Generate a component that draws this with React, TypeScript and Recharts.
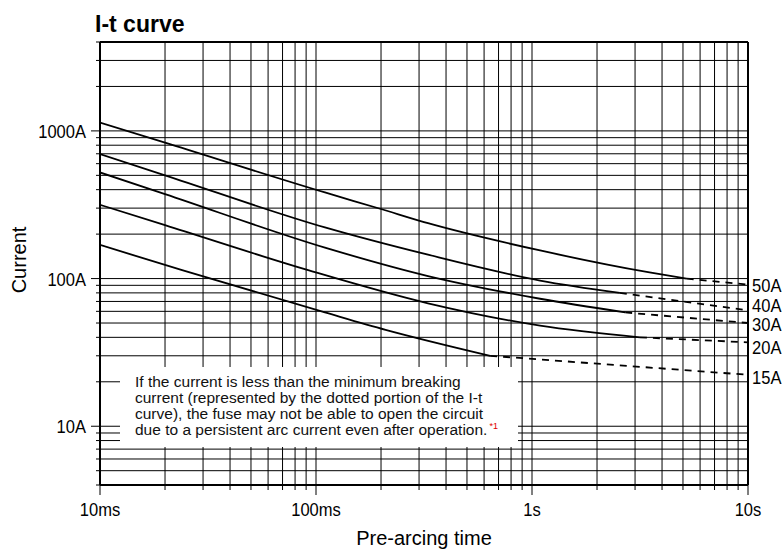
import React from 'react';
import { LineChart, Line, XAxis, YAxis, CartesianGrid, ReferenceLine } from 'recharts';

// pre-arcing time in seconds, current in amperes
const timeTicks = [
  0.01, 0.02, 0.03, 0.04, 0.05, 0.06, 0.07, 0.08, 0.09,
  0.1, 0.2, 0.3, 0.4, 0.5, 0.6, 0.7, 0.8, 0.9,
  1, 2, 3, 4, 5, 6, 7, 8, 9, 10,
];
const currentTicks = [
  4, 5, 6, 7, 8, 9,
  10, 20, 30, 40, 50, 60, 70, 80, 90,
  100, 200, 300, 400, 500, 600, 700, 800, 900,
  1000, 2000, 3000, 4000,
];
const timeLabels: Record<string, string> = { '0.01': '10ms', '0.1': '100ms', '1': '1s', '10': '10s' };
const currentLabels: Record<string, string> = { '10': '10A', '100': '100A', '1000': '1000A' };

const ratings = ['50A', '40A', '30A', '20A', '15A'];

const fuse50Solid = [[0.01, 1140], [0.02, 832], [0.11, 383], [0.198, 297], [0.33, 237], [1.09, 155], [3.5, 110], [5.2, 100]];
const fuse50Dotted = [[5.2, 100], [10, 91]];
const fuse40Solid = [[0.01, 696], [0.02, 500], [0.11, 222], [0.33, 145], [1.09, 97], [2.55, 80]];
const fuse40Dotted = [[2.55, 80], [10, 61]];
const fuse30Solid = [[0.01, 523], [0.02, 373], [0.11, 162], [0.33, 104], [1.09, 73], [2.7, 59]];
const fuse30Dotted = [[2.7, 59], [10, 50]];
const fuse20Solid = [[0.01, 316], [0.02, 230], [0.092, 114], [0.33, 68], [1.09, 48], [3.16, 40]];
const fuse20Dotted = [[3.16, 40], [10, 37]];
const fuse15Solid = [[0.01, 169], [0.024, 114], [0.11, 59], [0.21, 45], [0.64, 30]];
const fuse15Dotted = [[0.64, 30], [10, 22.3]];

const noteLines = [
  'If the current is less than the minimum breaking',
  'current (represented by the dotted portion of the I-t',
  'curve), the fuse may not be able to open the circuit',
  'due to a persistent arc current even after operation.',
];

const toPoints = (rows: number[][]) => rows.map(([t, i]) => ({ t, i }));

const series = [
  { name: ratings[0], solid: toPoints(fuse50Solid), dotted: toPoints(fuse50Dotted), shift: 0 },
  { name: ratings[1], solid: toPoints(fuse40Solid), dotted: toPoints(fuse40Dotted), shift: -5.5 },
  { name: ratings[2], solid: toPoints(fuse30Solid), dotted: toPoints(fuse30Dotted), shift: 1 },
  { name: ratings[3], solid: toPoints(fuse20Solid), dotted: toPoints(fuse20Dotted), shift: 5 },
  { name: ratings[4], solid: toPoints(fuse15Solid), dotted: toPoints(fuse15Dotted), shift: 2 },
];

const SANS = '"Liberation Sans", Arial, Helvetica, sans-serif';

const TimeTick = (props: any) => {
  const { x, y, payload } = props;
  const label = timeLabels[String(payload.value)];
  return (
    <g>
      <line x1={x} x2={x} y1={y} y2={y + (label ? 10 : 5)} stroke="#000" strokeWidth={1} />
      {label && (
        <text
          transform={`translate(${x},${y + 31}) scale(0.87,1)`}
          textAnchor="middle"
          fontFamily={SANS}
          fontSize={19}
          fill="#000"
        >
          {label}
        </text>
      )}
    </g>
  );
};

const CurrentTick = (props: any) => {
  const { x, y, payload } = props;
  const label = currentLabels[String(payload.value)];
  return (
    <g>
      <line x1={x - (label ? 9 : 4)} x2={x} y1={y} y2={y} stroke="#000" strokeWidth={1} />
      {label && (
        <text
          transform={`translate(${x - 14},${y + 7}) scale(0.87,1)`}
          textAnchor="end"
          fontFamily={SANS}
          fontSize={19}
          fill="#000"
        >
          {label}
        </text>
      )}
    </g>
  );
};

const endLabel = (name: string, shift: number, last: number) => (props: any) => {
  if (props.index !== last) return null;
  return (
    <text
      key={name}
      transform={`translate(${props.x + 4},${props.y + shift + 7}) scale(0.87,1)`}
      fontFamily={SANS}
      fontSize={19}
      fill="#000"
    >
      {name}
    </text>
  );
};

export default function App() {
  return (
    <div style={{ position: 'absolute', left: 0, top: 0, width: 784, height: 551, background: '#fff' }}>
      <LineChart width={784} height={551} margin={{ top: 42, right: 36, bottom: 0, left: 0 }}>
        <CartesianGrid stroke="#000" strokeWidth={1} />
        <XAxis
          dataKey="t"
          type="number"
          scale="log"
          domain={[0.01, 10]}
          ticks={timeTicks}
          interval={0}
          allowDataOverflow
          height={66}
          tick={<TimeTick />}
          tickLine={false}
          tickSize={0}
          tickMargin={0}
          axisLine={{ stroke: '#000', strokeWidth: 2 }}
        />
        <YAxis
          dataKey="i"
          type="number"
          scale="log"
          domain={[4, 4000]}
          ticks={currentTicks}
          interval={0}
          allowDataOverflow
          width={100}
          tick={<CurrentTick />}
          tickLine={false}
          tickSize={0}
          tickMargin={0}
          axisLine={{ stroke: '#000', strokeWidth: 2 }}
        />
        <ReferenceLine y={4000} stroke="#000" strokeWidth={2} />
        <ReferenceLine x={10} stroke="#000" strokeWidth={2} />
        {series.map((s) => (
          <React.Fragment key={s.name}>
            <Line
              data={s.solid}
              dataKey="i"
              type="monotone"
              stroke="#000"
              strokeWidth={1.8}
              dot={false}
              isAnimationActive={false}
            />
            <Line
              data={s.dotted}
              dataKey="i"
              type="monotone"
              stroke="#000"
              strokeWidth={1.8}
              strokeDasharray="7 6"
              dot={false}
              isAnimationActive={false}
              label={endLabel(s.name, s.shift, s.dotted.length - 1)}
            />
          </React.Fragment>
        ))}
      </LineChart>
      <svg
        width={784}
        height={551}
        style={{ position: 'absolute', left: 0, top: 0, pointerEvents: 'none' }}
      >
        <text x={95} y={32} fontFamily={SANS} fontWeight="bold" fontSize={23} fill="#000">
          I-t curve
        </text>
        <text
          transform="translate(26,260) rotate(-90)"
          textAnchor="middle"
          fontFamily={SANS}
          fontSize={20}
          fill="#000"
        >
          Current
        </text>
        <text x={424} y={545} textAnchor="middle" fontFamily={SANS} fontSize={20} fill="#000">
          Pre-arcing time
        </text>
        <rect x={120} y={367} width={398} height={80} fill="#fff" />
        {noteLines.map((line, k) => (
          <text key={k} x={135} y={387 + k * 16} fontFamily={SANS} fontSize={15.5} fill="#111">
            {line}
            {k === noteLines.length - 1 && (
              <tspan fill="#e00000" fontSize={9} dx={2} dy={-6}>
                *1
              </tspan>
            )}
          </text>
        ))}
      </svg>
    </div>
  );
}
